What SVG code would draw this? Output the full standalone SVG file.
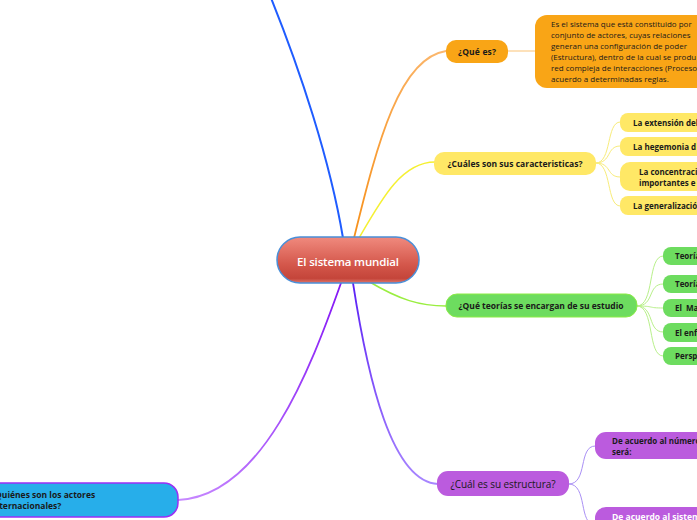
<svg xmlns="http://www.w3.org/2000/svg" width="697" height="520" viewBox="0 0 697 520">
<defs>
<linearGradient id="cg" x1="0" y1="0" x2="0" y2="1">
<stop offset="0" stop-color="#f08a7e"/>
<stop offset="0.6" stop-color="#d4574b"/>
<stop offset="0.9" stop-color="#c4453a"/>
<stop offset="1" stop-color="#e0776c"/>
</linearGradient>
<linearGradient id="pg" x1="0" y1="0" x2="0" y2="1">
<stop offset="0" stop-color="#5a1ff5"/>
<stop offset="1" stop-color="#a886ff"/>
</linearGradient>
<linearGradient id="vg" x1="1" y1="0" x2="0" y2="1">
<stop offset="0" stop-color="#8416f5"/>
<stop offset="1" stop-color="#c88aff"/>
</linearGradient>
<linearGradient id="og" x1="0" y1="1" x2="1" y2="0">
<stop offset="0" stop-color="#f7901a"/>
<stop offset="1" stop-color="#fbb870"/>
</linearGradient>
</defs>
<style>
text{font-family:"Open Sans","Noto Sans","Liberation Sans",sans-serif;fill:#1a1a1a}
.b{font-weight:700;font-size:8.5px}
.c{font-weight:700;font-size:8px}
.d{font-size:8px}
.thin{fill:none;stroke-width:1}
</style>
<rect width="697" height="520" fill="#ffffff"/>
<g id="connectors" fill="none" stroke-linecap="round">
<path d="M343 238 C330 160 300 70 271 -2" stroke="#1f5cff" stroke-width="2"/>
<path d="M354 238 C378 140 400 58 446 51" stroke="url(#og)" stroke-width="1.8"/>
<path d="M359 238 C382 198 402 162 435 162" stroke="#f5f032" stroke-width="1.5"/>
<path d="M368 281 C400 300 420 306 446 306" stroke="#9aee40" stroke-width="1.5"/>
<path d="M353 283 C368 380 392 482 438 484" stroke="url(#pg)" stroke-width="1.8"/>
<path d="M341 283 C310 370 262 496 178 500" stroke="url(#vg)" stroke-width="1.8"/>
<path d="M508 51 L535 51" stroke="#fdd7a4" stroke-width="1.5"/>
<g stroke="#f8ec7a" class="thin">
<path d="M596 163 C612 163 606 122 620 122"/>
<path d="M596 163 C612 163 606 146 620 146"/>
<path d="M596 163 C612 163 606 177 620 177"/>
<path d="M596 163 C612 163 606 206 620 206"/>
</g>
<g stroke="#b8f08a" class="thin">
<path d="M637 306 C655 306 647 256 663 256"/>
<path d="M637 306 C655 306 647 284 663 284"/>
<path d="M637 306 C655 306 647 308 663 308"/>
<path d="M637 306 C655 306 647 332 663 332"/>
<path d="M637 306 C655 306 647 356 663 356"/>
</g>
<g stroke="#aa90f5" class="thin">
<path d="M569 484 C588 484 578 446 595 446"/>
<path d="M569 484 C588 484 578 525 595 525"/>
</g>
</g>
<g id="central">
<rect x="277" y="237" width="142" height="46" rx="23" fill="url(#cg)" stroke="#4a8fd8" stroke-width="1.5"/>
<text x="348" y="266" text-anchor="middle" style="fill:#ffffff;font-size:11.5px;font-weight:600" textLength="102">El sistema mundial</text>
</g>
<g id="que-es">
<rect x="446" y="40" width="62" height="23" rx="10" fill="#f9a516"/>
<text x="477" y="54.5" text-anchor="middle" class="b" textLength="38">¿Qué es?</text>
</g>
<g id="definicion">
<rect x="535" y="15" width="180" height="73" rx="12" fill="#f9a516"/>
<text class="d" x="551" y="27">Es el sistema que está constituido por</text>
<text class="d" x="551" y="38">conjunto de actores, cuyas relaciones</text>
<text class="d" x="551" y="49">generan una configuración de poder</text>
<text class="d" x="551" y="60">(Estructura), dentro de la cual se produ</text>
<text class="d" x="551" y="71">red compleja de interacciones (Proceso</text>
<text class="d" x="551" y="82">acuerdo a determinadas reglas.</text>
</g>
<g id="caracteristicas">
<rect x="434" y="152" width="162" height="23" rx="10" fill="#ffe866"/>
<text x="515" y="166.5" text-anchor="middle" class="b" textLength="135">¿Cuáles son sus caracteristicas?</text>
</g>
<g id="car-1"><rect x="620" y="113" width="100" height="19" rx="8" fill="#ffe866"/><text x="633" y="125.5" class="c">La extensión del</text></g>
<g id="car-2"><rect x="620" y="137" width="100" height="19" rx="8" fill="#ffe866"/><text x="633" y="149.5" class="c">La hegemonia d</text></g>
<g id="car-3"><rect x="620" y="162" width="100" height="29" rx="10" fill="#ffe866"/><text x="639" y="175" class="c">La concentraci</text><text x="639" y="186" class="c">importantes e</text></g>
<g id="car-4"><rect x="620" y="196" width="100" height="19" rx="8" fill="#ffe866"/><text x="633" y="208.5" class="c">La generalizació</text></g>
<g id="teorias">
<rect x="446" y="294" width="191" height="23" rx="11" fill="#6ddc5f" stroke="#8cec45" stroke-width="1"/>
<text x="541" y="309" text-anchor="middle" class="b" textLength="165">¿Qué teorías se encargan de su estudio</text>
</g>
<g id="teo-1"><rect x="663" y="247" width="60" height="18" rx="8" fill="#6ddc5f"/><text x="675" y="259" class="c">Teoría</text></g>
<g id="teo-2"><rect x="663" y="275" width="60" height="18" rx="8" fill="#6ddc5f"/><text x="675" y="287" class="c">Teoría</text></g>
<g id="teo-3"><rect x="663" y="299" width="60" height="18" rx="8" fill="#6ddc5f"/><text x="675" y="311" class="c" xml:space="preserve">El  Ma</text></g>
<g id="teo-4"><rect x="663" y="323" width="60" height="19" rx="8" fill="#6ddc5f"/><text x="675" y="335.5" class="c">El enf</text></g>
<g id="teo-5"><rect x="663" y="347" width="60" height="18" rx="8" fill="#6ddc5f"/><text x="675" y="359" class="c">Persp</text></g>
<g id="estructura">
<rect x="437" y="471" width="132" height="25" rx="11" fill="#bb5bde"/>
<text x="503" y="487.5" text-anchor="middle" style="font-size:10px" textLength="105">¿Cuál es su estructura?</text>
</g>
<g id="est-1"><rect x="595" y="432" width="130" height="27" rx="11" fill="#bb5bde"/><text x="612" y="444" class="c">De acuerdo al número</text><text x="612" y="455" class="c">será:</text></g>
<g id="est-2"><rect x="595" y="507" width="130" height="30" rx="11" fill="#bb5bde"/><text x="612" y="520" class="b" style="fill:#ffffff">De acuerdo al sistem</text></g>
<g id="actores">
<rect x="-40" y="483" width="218" height="34" rx="14" fill="#27aeea" stroke="#9a2ff5" stroke-width="1.5"/>
<text x="-9" y="498" class="b">¿Quiénes son los actores</text>
<text x="-9" y="509" class="b">internacionales?</text>
</g>
</svg>
